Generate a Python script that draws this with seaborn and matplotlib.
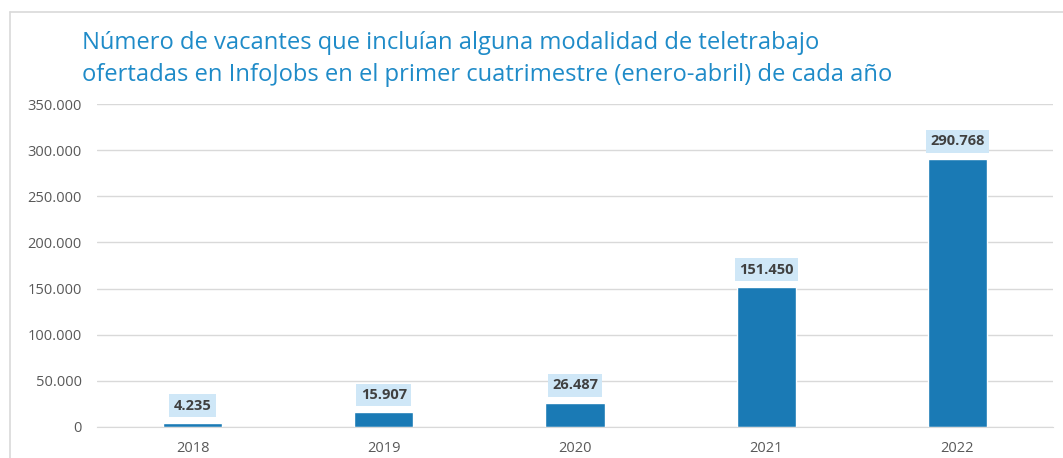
import matplotlib
matplotlib.use("Agg")
import matplotlib.pyplot as plt
import seaborn as sns
import pandas as pd
from matplotlib.lines import Line2D

years = ["2018", "2019", "2020", "2021", "2022"]
vacantes = [4235, 15907, 26487, 151450, 290768]
labels = ["4.235", "15.907", "26.487", "151.450", "290.768"]
yticks = [0, 50000, 100000, 150000, 200000, 250000, 300000, 350000]
ytick_labels = ["0", "50.000", "100.000", "150.000", "200.000", "250.000", "300.000", "350.000"]
title = ("Número de vacantes que incluían alguna modalidad de teletrabajo\n"
         "ofertadas en InfoJobs en el primer cuatrimestre (enero-abril) de cada año")

sns.set_style("white")
plt.rcParams['font.family'] = ['Open Sans', 'DejaVu Sans']

df = pd.DataFrame({"year": years, "v": vacantes})

fig = plt.figure(figsize=(10.63, 4.58), dpi=100)
ax = fig.add_axes([97/1063, 1-427/458, (1053-97)/1063, (427-104)/458])

sns.barplot(data=df, x="year", y="v", color="#1a7ab5", saturation=1, width=0.31, ax=ax)

ax.set_ylim(0, 350000)
ax.set_yticks(yticks)
ax.set_yticklabels(ytick_labels)
ax.yaxis.grid(True, color="#d9d9d9", linewidth=1)
ax.set_axisbelow(True)
for s in ["top", "right", "left"]:
    ax.spines[s].set_visible(False)
ax.spines["bottom"].set_color("#d9d9d9")
ax.set_xlabel("")
ax.set_ylabel("")
ax.tick_params(axis="both", length=0, colors="#595959", labelsize=10.5)
ax.tick_params(axis="y", pad=11)
ax.tick_params(axis="x", pad=10)

for i, (val, lab) in enumerate(zip(vacantes, labels)):
    ax.annotate(lab, (i, val), xytext=(0, 7.5), textcoords="offset points",
                ha="center", va="bottom", fontsize=10.5, fontweight="bold", color="#404040",
                bbox=dict(boxstyle="square,pad=0.3", fc="#cfe7f7", ec="none"))

fig.text(82/1063, 1-31/458, title, ha="left", va="top", fontsize=17.1,
         color="#1f8bc8", linespacing=1.42)

x0 = 10/1063
ytop = 1-12/458
fig.add_artist(Line2D([x0, 1], [ytop, ytop], color="#d9d9d9", lw=1.2, transform=fig.transFigure))
fig.add_artist(Line2D([x0, x0], [0, ytop], color="#d9d9d9", lw=1.2, transform=fig.transFigure))

fig.savefig("out.png", dpi=100)
